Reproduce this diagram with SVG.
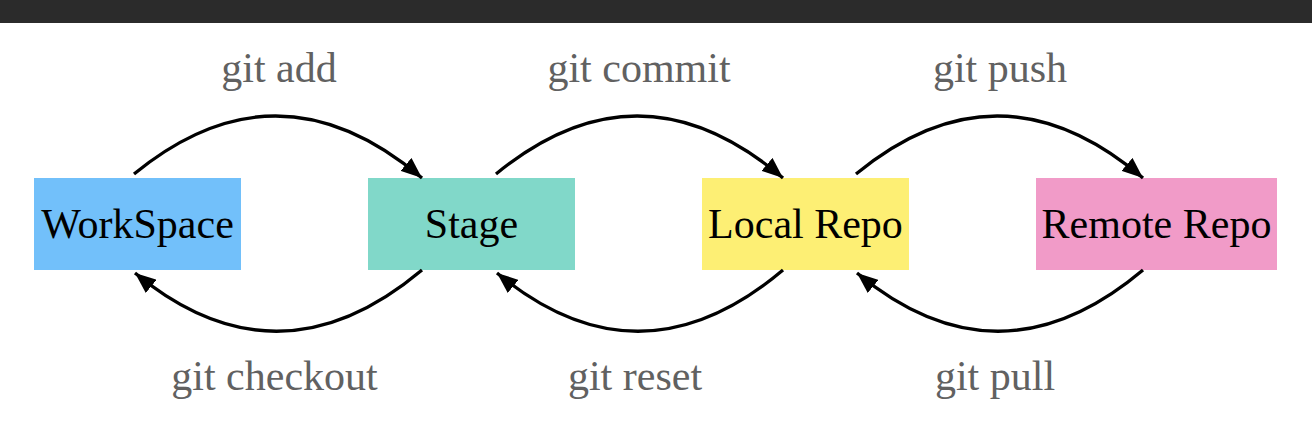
<svg xmlns="http://www.w3.org/2000/svg" width="1312" height="440" viewBox="0 0 1312 440">
<style>
.node text{font-family:"Liberation Serif","Times New Roman",serif;font-size:42px;fill:#000;text-anchor:middle}
.lbl{font-family:"Liberation Serif","Times New Roman",serif;font-size:42px;fill:#616161;text-anchor:middle}
.edge{fill:none;stroke:#000;stroke-width:3.3;marker-end:url(#ah)}
</style>
<defs>
<marker id="ah" markerUnits="userSpaceOnUse" markerWidth="21" markerHeight="17" viewBox="0 0 21 17" refX="21" refY="8.5" orient="auto">
<path d="M0,0 L21,8.5 L0,17 Z" fill="#000"/>
</marker>
</defs>
<rect x="0" y="0" width="1312" height="440" fill="#fff"/>
<rect x="0" y="0" width="1312" height="23" fill="#2b2b2b"/>
<g id="workspace" class="node"><rect x="34" y="178" width="207" height="92" fill="#72c0fa"/><text x="137.5" y="238">WorkSpace</text></g>
<g id="stage" class="node"><rect x="368" y="178" width="207" height="92" fill="#81d8c9"/><text x="471.5" y="238">Stage</text></g>
<g id="local" class="node"><rect x="702" y="178" width="207" height="92" fill="#fdef74"/><text x="805.5" y="238">Local Repo</text></g>
<g id="remote" class="node"><rect x="1036" y="178" width="241" height="92" fill="#f19bc8"/><text x="1156.5" y="238">Remote Repo</text></g>
<g id="connectors">
<path class="edge" d="M134,174 Q278,56 422,178"/>
<path class="edge" d="M422,270 Q278,391 135,273"/>
<path class="edge" d="M496,174 Q639.5,56 783,178"/>
<path class="edge" d="M783,270 Q639.5,391 497,273"/>
<path class="edge" d="M856,174 Q999.5,56 1143,178"/>
<path class="edge" d="M1143,270 Q999.5,391 857,273"/>
<text class="lbl" x="279" y="82">git add</text>
<text class="lbl" x="639" y="82">git commit</text>
<text class="lbl" x="1000" y="82">git push</text>
<text class="lbl" x="274.5" y="390">git checkout</text>
<text class="lbl" x="635" y="390">git reset</text>
<text class="lbl" x="995" y="390">git pull</text>
</g>
</svg>
